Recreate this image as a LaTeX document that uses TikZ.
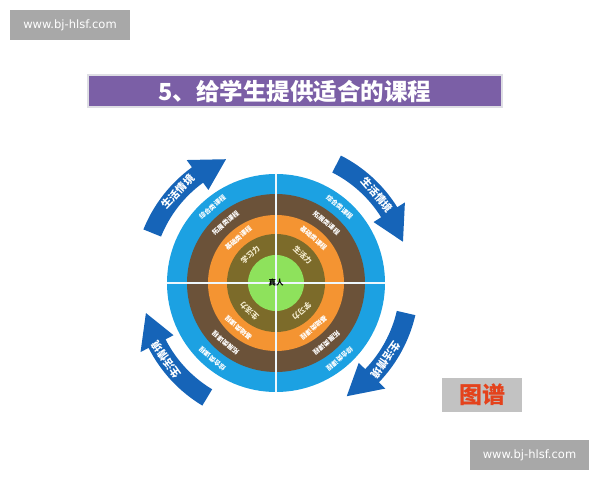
\documentclass[tikz,border=0pt]{standalone}
\usepackage{fontspec}
\setmainfont{Noto Sans CJK SC}
\newfontfamily\webfont{DejaVu Sans}
\usetikzlibrary{positioning}
\definecolor{ringblue}{RGB}{28,161,226}
\definecolor{ringbrown}{RGB}{107,82,57}
\definecolor{ringorange}{RGB}{244,148,50}
\definecolor{ringolive}{RGB}{124,107,42}
\definecolor{coregreen}{RGB}{142,226,92}
\definecolor{arrowblue}{RGB}{22,100,184}
\definecolor{titlepurple}{RGB}{123,95,166}
\definecolor{markgrey}{RGB}{168,168,168}
\definecolor{taggrey}{RGB}{194,194,194}
\definecolor{tagred}{RGB}{228,66,28}

\begin{document}
\begin{tikzpicture}[
    x=1pt,
    y=1pt,
    markbox/.style={fill=markgrey,text=white,minimum width=120pt,minimum height=30pt,
      inner sep=0pt,font=\webfont\fontsize{11.5}{12}\selectfont},
    titlebar/.style={fill=titlepurple,draw={rgb,255:red,222;green,222;blue,228},line width=1.5pt,
      minimum width=414pt,minimum height=32pt,text=white,font=\fontsize{23.5}{24}\selectfont\bfseries},
    ringtext/.style={text=white,inner sep=0pt,font=\fontsize{6.5}{7}\selectfont\bfseries},
    coretext/.style={text={rgb,255:red,244;green,236;blue,206},inner sep=0pt,font=\fontsize{7.5}{8}\selectfont\bfseries},
    arrowtext/.style={text=white,inner sep=0pt,font=\fontsize{10.5}{11}\selectfont\bfseries},
    crossline/.style={draw=white!92!ringblue,line width=1.3pt}
]
  \useasboundingbox (0,0) rectangle (600,480);

  % watermarks and title
  \node[markbox] (marktop) at (70,455) {www.bj-hlsf.com};
  \node[markbox,minimum width=119pt] (markbottom) at (529.5,25) {www.bj-hlsf.com};
  \node[titlebar] (title) at (295,389) {5、给学生提供适合的课程};
  \node[fill=taggrey,minimum width=80pt,minimum height=34pt,text=tagred,
    font=\fontsize{23}{24}\selectfont\bfseries] (tag) at (482,85) {图谱};

  \begin{scope}[shift={(276,197)}]
    \coordinate (hub) at (0,0);

    % rings
    \fill[ringblue] (hub) circle[radius=109];
    \fill[ringbrown] (hub) circle[radius=89];
    \fill[ringorange] (hub) circle[radius=68];
    \fill[ringolive] (hub) circle[radius=49];
    \fill[coregreen] (hub) circle[radius=28];
    \draw[crossline] (-109,0) -- (109,0);
    \draw[crossline] (0,-109) -- (0,109);

    \foreach \ang in {130,50,-50,-130} {
      \node[ringtext,rotate=\ang-90] (blue\ang) at (\ang:99) {综合类课程};
      \node[ringtext,rotate=\ang-90] (brown\ang) at (\ang:78.5) {拓展类课程};
      \node[ringtext,rotate=\ang-90] (orange\ang) at (\ang:58.5) {基础类课程};
    }
    \node[coretext,rotate=42] (learnup) at (132:38.5) {学习力};
    \node[coretext,rotate=-44] (lifeup) at (46:38.5) {生活力};
    \node[coretext,rotate=-138] (learndown) at (-48:38.5) {学习力};
    \node[coretext,rotate=136] (lifedown) at (-134:38.5) {生活力};
    \node[inner sep=0pt,font=\fontsize{7.5}{8}\selectfont\bfseries] (core) at (hub) {真人};

    % curved arrows round the rings
    \foreach \tail/\base/\tip in {158/126/112,63/32/18,-13/-44/-58,-121/-153/-167}
      \fill[arrowblue] (\tail:124) arc[start angle=\tail,end angle=\base,radius=124]
        -- (\base:115) -- (\tip:133.5) -- (\base:152) -- (\base:143)
        arc[start angle=\base,end angle=\tail,radius=143] -- cycle;
    \foreach \ang/\nm in {137/a,41/b,-35/c,-145/d}
      \node[arrowtext,rotate=\ang-90] (scene\nm) at (\ang:134) {生活情境};
  \end{scope}
\end{tikzpicture}
\end{document}
